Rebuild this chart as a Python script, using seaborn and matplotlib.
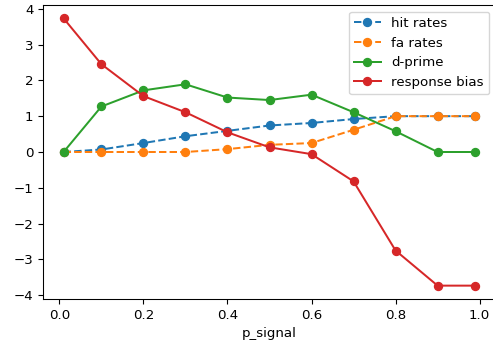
import matplotlib
matplotlib.use("Agg")
import matplotlib.pyplot as plt
import seaborn as sns
import pandas as pd

p_signal = [0.01, 0.1, 0.2, 0.3, 0.4, 0.5, 0.6, 0.7, 0.8, 0.9, 0.99]
hit_rates = [0.0, 0.07, 0.25, 0.44, 0.59, 0.74, 0.81, 0.92, 1.0, 1.0, 1.0]
fa_rates = [0.0, 0.0, 0.0, 0.0, 0.08, 0.2, 0.25, 0.62, 1.0, 1.0, 1.0]
d_prime = [0.0, 1.27, 1.72, 1.89, 1.52, 1.45, 1.6, 1.11, 0.58, 0.0, 0.0]
response_bias = [3.73, 2.45, 1.56, 1.11, 0.55, 0.13, -0.06, -0.82, -2.75, -3.73, -3.73]

series_names = ["hit rates", "fa rates", "d-prime", "response bias"]
series_values = [hit_rates, fa_rates, d_prime, response_bias]
series_styles = ["--", "--", "-", "-"]
colors = ["#1f77b4", "#ff7f0e", "#2ca02c", "#d62728"]

s = 0.96
plt.rcParams.update({
    "font.size": 10 * s,
    "xtick.major.size": 3.5 * s,
    "ytick.major.size": 3.5 * s,
    "axes.linewidth": 0.8 * s,
})

fig = plt.figure(figsize=(4.93, 3.49), dpi=100)
ax = fig.add_axes([43 / 493, 50 / 349, 453 / 493, 294 / 349])

for name, vals, ls, c in zip(series_names, series_values, series_styles, colors):
    df = pd.DataFrame({"p_signal": p_signal, "value": vals})
    sns.lineplot(data=df, x="p_signal", y="value", ax=ax, color=c,
                 linestyle=ls, marker="o", markersize=6 * s,
                 markeredgecolor=c, markeredgewidth=1.0 * s,
                 linewidth=1.5 * s, label=name)

ax.set_ylabel("")
ax.set_xlabel("p_signal", fontsize=10 * s)
ax.set_xticks([0.0, 0.2, 0.4, 0.6, 0.8, 1.0])
ax.set_yticks([-4, -3, -2, -1, 0, 1, 2, 3, 4])
ax.tick_params(labelsize=10 * s)
ax.legend(loc="upper right", fontsize=10 * s)

fig.savefig("out.png", dpi=100)
